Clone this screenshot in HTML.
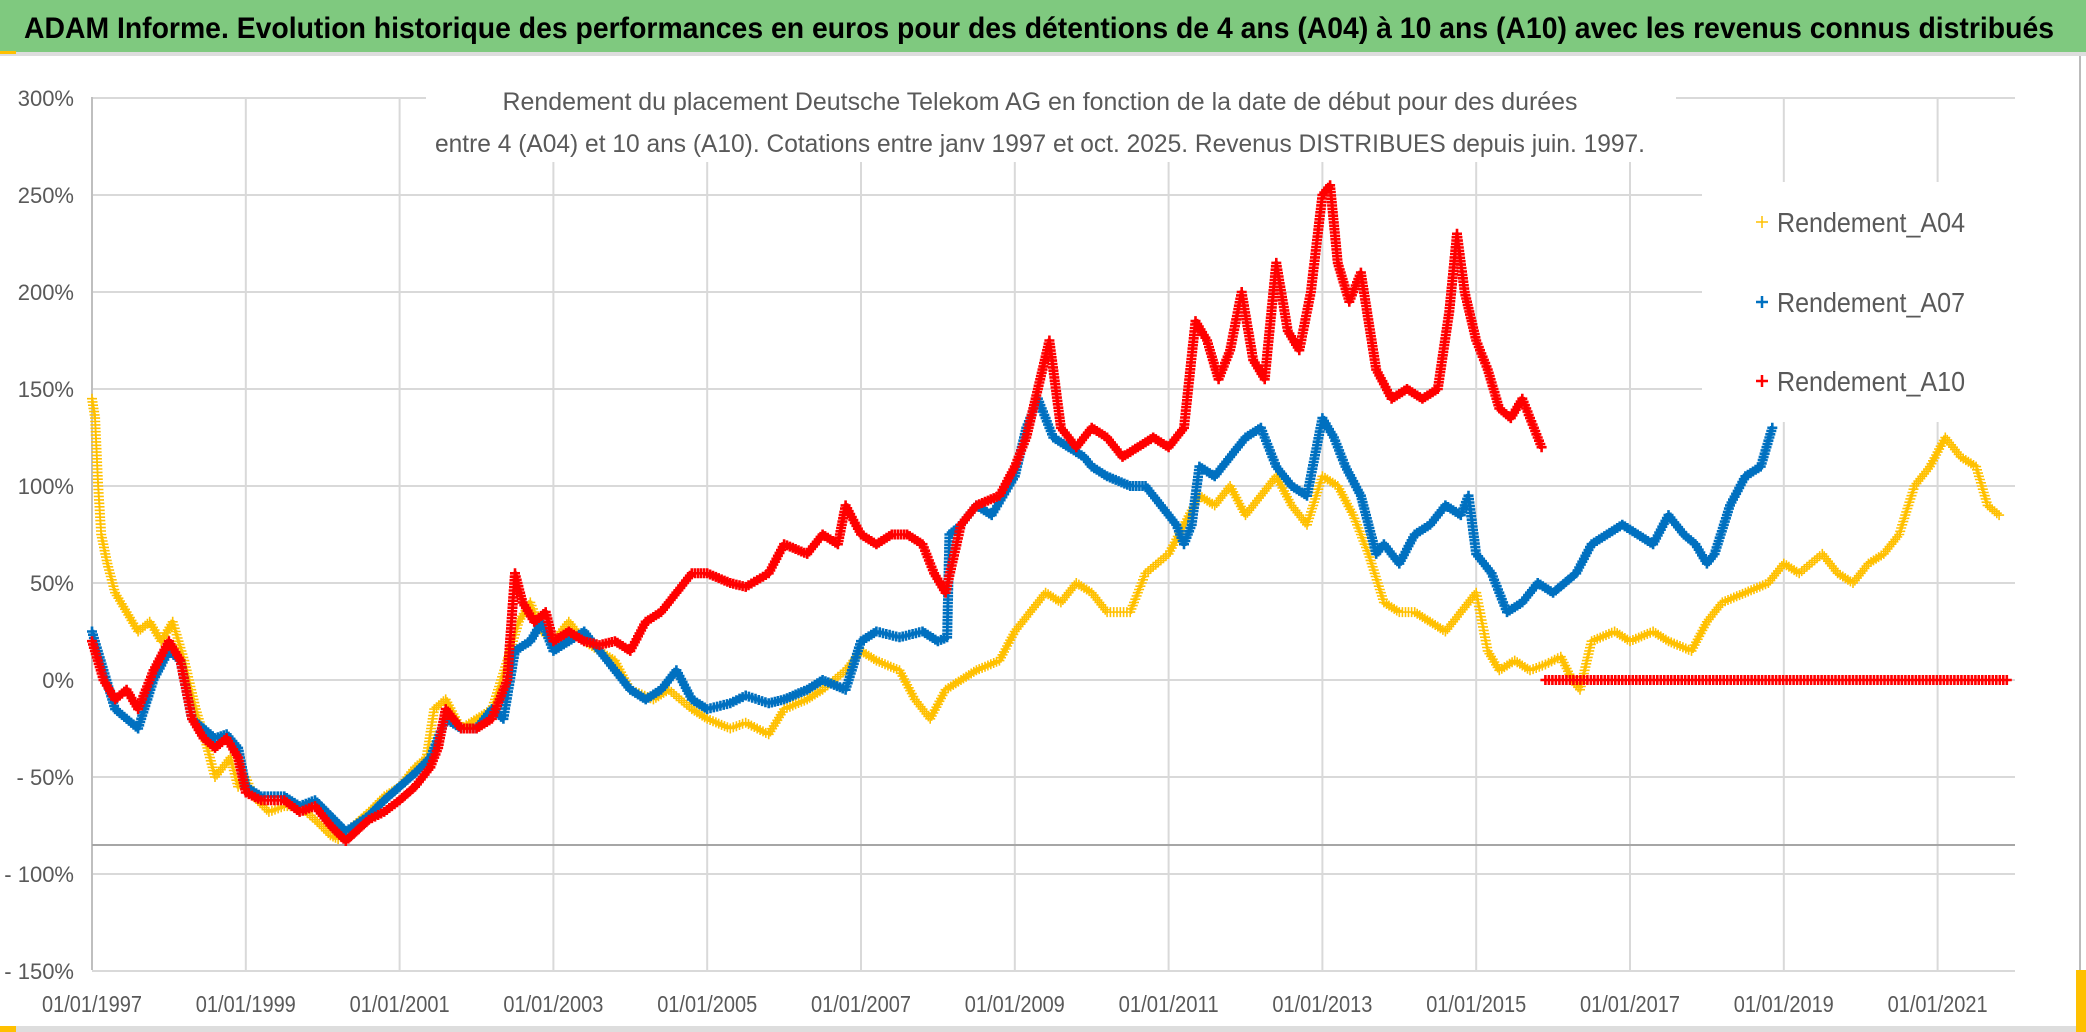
<!DOCTYPE html>
<html><head><meta charset="utf-8"><style>
html,body{margin:0;padding:0;background:#fff;width:2086px;height:1032px;overflow:hidden}
svg{display:block}
</style></head><body>
<svg id="chart" width="2086" height="1032" viewBox="0 0 2086 1032" xmlns="http://www.w3.org/2000/svg" font-family="'Liberation Sans', sans-serif">
<rect x="0" y="0" width="2086" height="1032" fill="#fff"/>
<rect x="0" y="0" width="2086" height="52" fill="#7FC97F"/>
<rect x="0" y="52" width="2086" height="4" fill="#ddd"/>
<rect x="0" y="51" width="16" height="3" fill="#FFC000"/>
<text x="24" y="38" font-size="30" font-weight="bold" fill="#000" textLength="2030" lengthAdjust="spacingAndGlyphs">ADAM Informe. Evolution historique des performances en euros pour des détentions de 4 ans (A04) à 10 ans (A10) avec les revenus connus distribués</text>
<g id="grid"></g>
<g id="series"></g>
<rect x="426" y="86" width="1250" height="76" fill="#fff"/>
<text x="1040" y="110" font-size="25" fill="#595959" text-anchor="middle" textLength="1075" lengthAdjust="spacingAndGlyphs">Rendement du placement Deutsche Telekom AG en fonction de la date de début pour des durées</text>
<text x="1040" y="152" font-size="25" fill="#595959" text-anchor="middle" textLength="1210" lengthAdjust="spacingAndGlyphs">entre 4 (A04) et 10 ans (A10). Cotations entre janv 1997 et oct. 2025. Revenus DISTRIBUES depuis juin. 1997.</text>
<g id="legend">
<rect x="1702" y="182" width="313" height="240" fill="#fff"/>
<g><path d="M1756 222h12M1762 216v12" stroke="#FFC000" stroke-width="1.5"/><text x="1777" y="232" font-size="28" fill="#595959" textLength="188" lengthAdjust="spacingAndGlyphs">Rendement_A04</text></g>
<g><path d="M1756 302h12M1762 296v12" stroke="#0070C0" stroke-width="2.5"/><text x="1777" y="312" font-size="28" fill="#595959" textLength="188" lengthAdjust="spacingAndGlyphs">Rendement_A07</text></g>
<g><path d="M1756 381h12M1762 375v12" stroke="#FF0000" stroke-width="2.5"/><text x="1777" y="391" font-size="28" fill="#595959" textLength="188" lengthAdjust="spacingAndGlyphs">Rendement_A10</text></g>
</g>
<line x1="2080" y1="56" x2="2080" y2="1028" stroke="#bbb" stroke-width="2"/>
<rect x="0" y="1026" width="2086" height="6" fill="#ddd"/>
<rect x="0" y="1026" width="16" height="6" fill="#FFC000"/>
<rect x="2076" y="970" width="10" height="62" fill="#FFC000"/>
</svg>
<script>
const yTicks=[300,250,200,150,100,50,0,-50,-100,-150];
const yTickLabels=["300%","250%","200%","150%","100%","50%","0%","- 50%","- 100%","- 150%"];
const xTicks=[1997,1999,2001,2003,2005,2007,2009,2011,2013,2015,2017,2019,2021];
const xTickLabels=["01/01/1997","01/01/1999","01/01/2001","01/01/2003","01/01/2005","01/01/2007","01/01/2009","01/01/2011","01/01/2013","01/01/2015","01/01/2017","01/01/2019","01/01/2021"];
const a04Dates=[1997.0,1997.04,1997.08,1997.12,1997.2,1997.3,1997.45,1997.6,1997.75,1997.9,1998.05,1998.2,1998.35,1998.5,1998.6,1998.7,1998.8,1998.9,1999.0,1999.1,1999.3,1999.5,1999.7,1999.9,2000.1,2000.2,2000.4,2000.6,2000.8,2001.0,2001.2,2001.35,2001.45,2001.6,2001.8,2002.0,2002.2,2002.4,2002.55,2002.7,2002.85,2003.0,2003.2,2003.4,2003.6,2003.8,2004.0,2004.3,2004.5,2004.8,2005.0,2005.3,2005.5,2005.8,2006.0,2006.3,2006.5,2006.8,2007.0,2007.2,2007.5,2007.7,2007.9,2008.1,2008.3,2008.5,2008.8,2009.0,2009.2,2009.4,2009.6,2009.8,2010.0,2010.2,2010.5,2010.7,2011.0,2011.2,2011.4,2011.6,2011.8,2012.0,2012.2,2012.4,2012.6,2012.8,2013.0,2013.2,2013.4,2013.6,2013.8,2014.0,2014.2,2014.4,2014.6,2014.8,2015.0,2015.15,2015.3,2015.5,2015.7,2015.9,2016.1,2016.25,2016.35,2016.5,2016.8,2017.0,2017.3,2017.5,2017.8,2018.0,2018.2,2018.5,2018.8,2019.0,2019.2,2019.5,2019.7,2019.9,2020.1,2020.3,2020.5,2020.7,2020.9,2021.1,2021.3,2021.5,2021.65,2021.8];
const a04Values=[145,135,100,75,60,45,35,25,30,20,30,10,-15,-35,-50,-45,-40,-55,-50,-60,-68,-65,-65,-72,-80,-82,-75,-68,-60,-55,-45,-40,-15,-10,-25,-20,-15,10,30,40,25,20,30,20,15,10,-5,-10,-5,-15,-20,-25,-22,-28,-15,-10,-5,5,15,10,5,-10,-20,-5,0,5,10,25,35,45,40,50,45,35,35,55,65,80,95,90,100,85,95,105,90,80,105,100,85,65,40,35,35,30,25,35,45,15,5,10,5,8,12,0,-5,20,25,20,25,20,15,30,40,45,50,60,55,65,55,50,60,65,75,100,110,125,115,110,90,85,100];
const a07Dates=[1997.0,1997.15,1997.3,1997.45,1997.6,1997.8,1998.0,1998.15,1998.3,1998.45,1998.6,1998.75,1998.9,1999.0,1999.2,1999.5,1999.7,1999.9,2000.1,2000.3,2000.6,2000.8,2001.0,2001.2,2001.4,2001.5,2001.6,2001.8,2002.0,2002.2,2002.35,2002.5,2002.7,2002.85,2003.0,2003.2,2003.4,2003.6,2003.8,2004.0,2004.2,2004.4,2004.6,2004.8,2005.0,2005.3,2005.5,2005.8,2006.0,2006.3,2006.5,2006.8,2007.0,2007.2,2007.5,2007.8,2008.0,2008.12,2008.15,2008.3,2008.5,2008.7,2009.0,2009.15,2009.3,2009.5,2009.7,2009.9,2010.0,2010.2,2010.5,2010.7,2010.9,2011.1,2011.2,2011.3,2011.4,2011.6,2011.8,2012.0,2012.2,2012.4,2012.6,2012.8,2013.0,2013.15,2013.3,2013.5,2013.7,2013.8,2014.0,2014.2,2014.4,2014.6,2014.8,2014.9,2015.0,2015.2,2015.4,2015.6,2015.8,2016.0,2016.3,2016.5,2016.7,2016.9,2017.1,2017.3,2017.5,2017.7,2017.85,2018.0,2018.1,2018.3,2018.5,2018.7,2018.85];
const a07Values=[25,5,-15,-20,-25,0,15,10,-20,-25,-30,-28,-35,-55,-60,-60,-65,-62,-70,-78,-70,-62,-55,-48,-40,-30,-20,-25,-25,-15,-20,15,20,30,15,20,25,15,5,-5,-10,-5,5,-10,-15,-12,-8,-12,-10,-5,0,-5,20,25,22,25,20,22,75,80,90,85,105,130,145,125,120,115,110,105,100,100,90,80,70,80,110,105,115,125,130,110,100,95,135,125,110,95,65,70,60,75,80,90,85,95,65,55,35,40,50,45,55,70,75,80,75,70,85,75,70,60,65,90,105,110,130];
const a10Dates=[1997.0,1997.15,1997.3,1997.45,1997.6,1997.8,1998.0,1998.15,1998.3,1998.45,1998.6,1998.75,1998.9,1999.0,1999.2,1999.5,1999.7,1999.9,2000.1,2000.3,2000.6,2000.8,2001.0,2001.2,2001.4,2001.5,2001.6,2001.8,2002.0,2002.2,2002.4,2002.5,2002.6,2002.75,2002.9,2003.0,2003.2,2003.4,2003.6,2003.8,2004.0,2004.2,2004.4,2004.6,2004.8,2005.0,2005.3,2005.5,2005.8,2006.0,2006.3,2006.5,2006.7,2006.8,2007.0,2007.2,2007.4,2007.6,2007.8,2007.95,2008.1,2008.3,2008.5,2008.8,2009.0,2009.15,2009.3,2009.45,2009.6,2009.8,2010.0,2010.2,2010.4,2010.6,2010.8,2011.0,2011.2,2011.35,2011.5,2011.65,2011.8,2011.95,2012.1,2012.25,2012.4,2012.55,2012.7,2012.85,2013.0,2013.1,2013.2,2013.35,2013.5,2013.7,2013.9,2014.1,2014.3,2014.5,2014.65,2014.75,2014.85,2015.0,2015.15,2015.3,2015.45,2015.6,2015.75,2015.85,null,2015.9,2021.9];
const a10Values=[20,0,-10,-5,-15,5,20,10,-20,-30,-35,-30,-40,-58,-62,-62,-68,-65,-75,-83,-72,-68,-62,-55,-45,-35,-15,-25,-25,-20,0,55,40,30,35,20,25,20,18,20,15,30,35,45,55,55,50,48,55,70,65,75,70,90,75,70,75,75,70,55,45,80,90,95,110,125,150,175,130,120,130,125,115,120,125,120,130,185,175,155,170,200,165,155,215,180,170,200,250,255,215,195,210,160,145,150,145,150,190,230,200,175,160,140,135,145,130,120,null,0,0];

const NS="http://www.w3.org/2000/svg";
const X=d=>92+(d-1997)*76.9;
const Y=v=>680-v*1.94;
const grid=document.getElementById('grid');
function mk(tag,attrs,parent){const e=document.createElementNS(NS,tag);for(const k in attrs)e.setAttribute(k,attrs[k]);parent.appendChild(e);return e;}
yTicks.forEach((t,i)=>{
  const l=mk('line',{x1:92,x2:2015,y1:Y(t),y2:Y(t),stroke:'#d9d9d9','stroke-width':2},grid);
  
  
  const tx=mk('text',{x:74,y:Y(t)+8,'font-size':22,fill:'#595959','text-anchor':'end'},grid);
  tx.textContent=yTickLabels[i];
  
  
});
xTicks.forEach((t,i)=>{
  const l=mk('line',{x1:X(t),x2:X(t),y1:97,y2:970,stroke:'#d9d9d9','stroke-width':2},grid);
  
  
  const tx=mk('text',{x:X(t),y:1012,'font-size':23,fill:'#595959','text-anchor':'middle',textLength:100,lengthAdjust:'spacingAndGlyphs'},grid);
  tx.textContent=xTickLabels[i];
  
  
});
const ax=mk('line',{x1:92,x2:92,y1:97,y2:970,stroke:'#bfbfbf','stroke-width':2},grid);


const hl=mk('line',{x1:92,x2:2015,y1:845,y2:845,stroke:'#a6a6a6','stroke-width':2},grid);



const ser=document.getElementById('series');
function plus(x,y){return `M${(x-5).toFixed(1)} ${y.toFixed(1)}h10M${x.toFixed(1)} ${(y-5).toFixed(1)}v10`;}
function drawSeries(dates,vals,color,sw,name){
  const g=mk('g',{},ser);
  
  
  let d='';
  for(let i=0;i<dates.length;i++){
    if(dates[i]===null||vals[i]===null)continue;
    const x0=X(dates[i]),y0=Y(vals[i]);
    d+=plus(x0,y0);
    if(i+1<dates.length&&dates[i+1]!==null&&vals[i+1]!==null){
      const x1=X(dates[i+1]),y1=Y(vals[i+1]);
      const n=Math.max(1,Math.ceil(Math.hypot(x1-x0,y1-y0)/3.5));
      for(let k=1;k<n;k++)d+=plus(x0+(x1-x0)*k/n,y0+(y1-y0)*k/n);
    }
  }
  const p=mk('path',{d:d,stroke:color,'stroke-width':sw,fill:'none'},g);
  
  
}
drawSeries(a04Dates,a04Values,'#FFC000',1.6,'series-a04');
drawSeries(a07Dates,a07Values,'#0070C0',2.6,'series-a07');
drawSeries(a10Dates,a10Values,'#FF0000',2.6,'series-a10');
</script>
</body></html>
